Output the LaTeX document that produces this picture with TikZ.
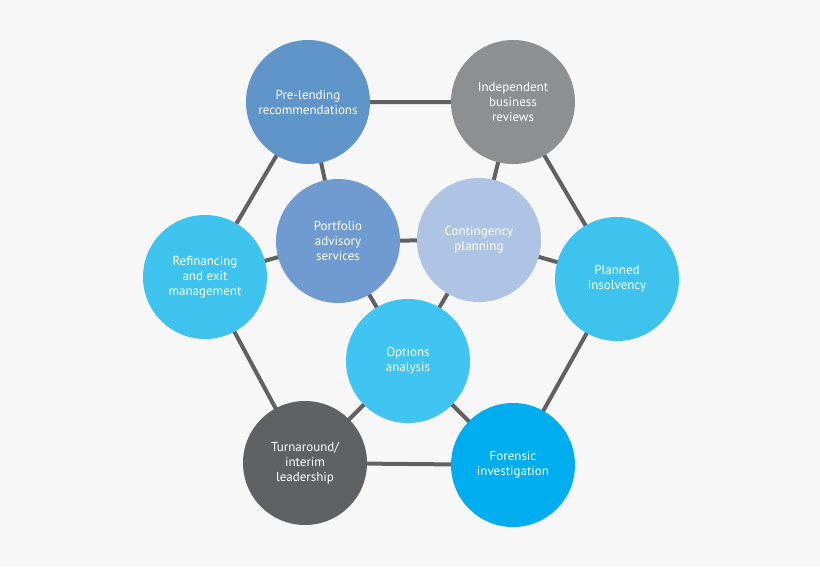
\documentclass[tikz,border=0pt]{standalone}
\usepackage{fontspec}
\setmainfont{PT Sans}
\begin{document}
\begin{tikzpicture}[x=1pt,y=-1pt,
  c/.style={circle,minimum size=124pt,inner sep=0pt,align=center,text=white,font=\fontsize{13}{15}\selectfont,fill=#1},
  l/.style={draw=black!62,line width=4pt}]
\definecolor{bgc}{HTML}{F7F7F7}
\definecolor{cpre}{HTML}{5F95C9}
\definecolor{cind}{HTML}{8E8F91}
\definecolor{cpla}{HTML}{3EC3EF}
\definecolor{cfor}{HTML}{00AEEF}
\definecolor{ctur}{HTML}{606163}
\definecolor{cref}{HTML}{3EC3EF}
\definecolor{cpor}{HTML}{6F9BD0}
\definecolor{ccon}{HTML}{ADC4E4}
\definecolor{copt}{HTML}{40C4F1}
\fill[bgc] (0,0) rectangle (820,566);
\useasboundingbox (0,0) rectangle (820,566);
\coordinate (pre) at (308,102);
\coordinate (ind) at (513,102);
\coordinate (pla) at (617,279);
\coordinate (for) at (513,465);
\coordinate (tur) at (305,463);
\coordinate (ref) at (205,277);
\coordinate (por) at (338,241);
\coordinate (con) at (479,240);
\coordinate (opt) at (408,361);
\draw[l] (pre)--(ind)--(pla)--(for)--(tur)--(ref)--cycle;
\draw[l] (pre)--(por) (ind)--(con) (ref)--(por) (pla)--(con) (tur)--(opt) (for)--(opt) (por)--(con)--(opt)--(por);
\node[c=cpre] (npre) at (pre) {Pre-lending\\recommendations};
\node[c=cind] (nind) at (ind) {Independent\\business\\reviews};
\node[c=cpla] (npla) at (pla) {Planned\\insolvency};
\node[c=cfor] (nfor) at (for) {Forensic\\investigation};
\node[c=ctur] (ntur) at (tur) {Turnaround/\\interim\\leadership};
\node[c=cref] (nref) at (ref) {Refinancing\\and exit\\management};
\node[c=cpor] (npor) at (por) {Portfolio\\advisory\\services};
\node[c=ccon] (ncon) at (con) {Contingency\\planning};
\node[c=copt] (nopt) at (opt) {Options\\analysis};
\end{tikzpicture}
\end{document}
